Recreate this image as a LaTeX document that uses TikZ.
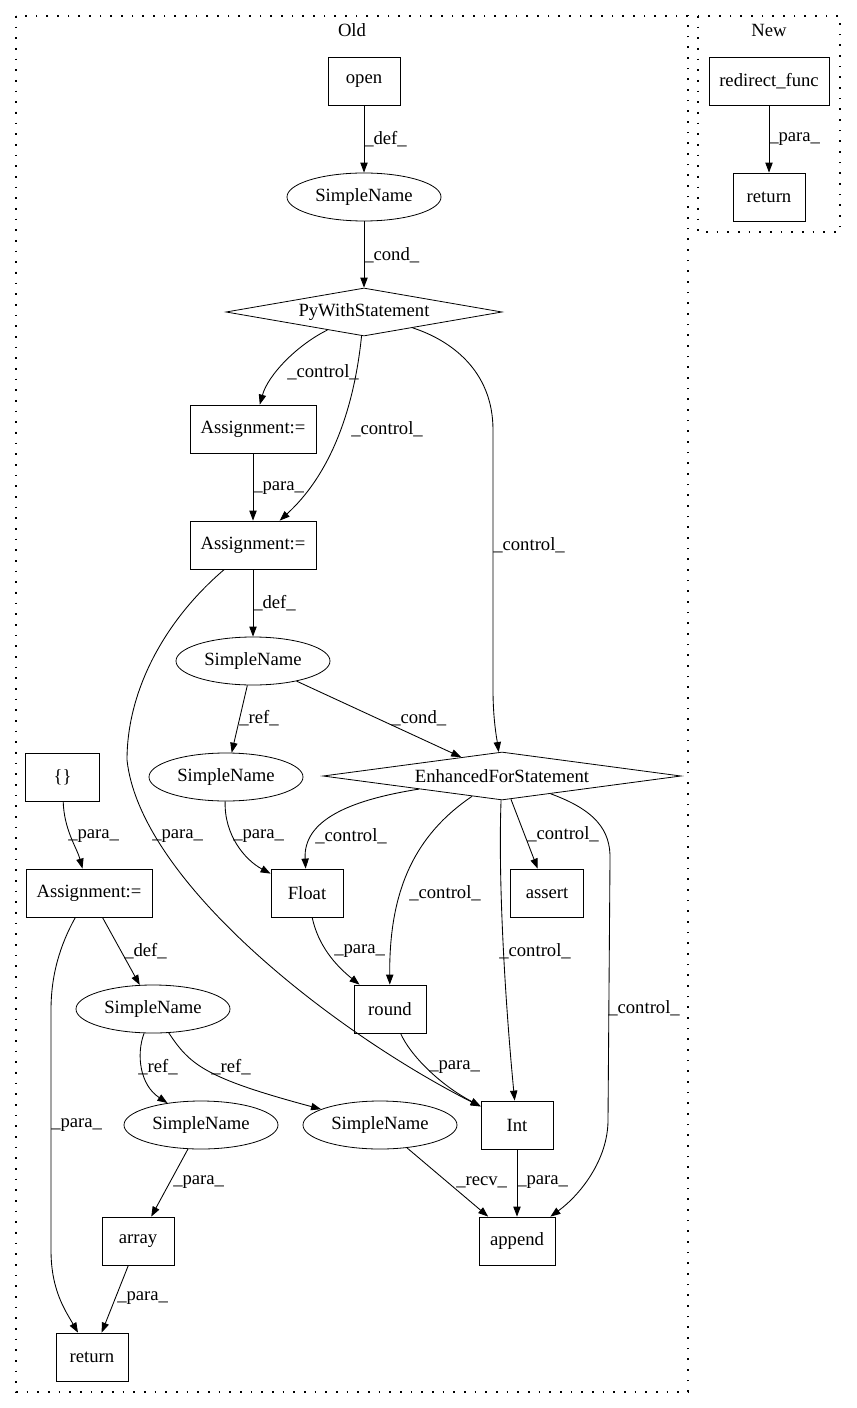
\documentclass[tikz,border=0pt]{standalone}
\usepackage{fontspec}
\setmainfont{Liberation Serif}
\usepackage{tikz}
\usetikzlibrary{shapes.geometric}
\usetikzlibrary{arrows.meta}
\tikzset{
  box/.style={draw, line width=0.6pt, minimum height=36pt, inner sep=0pt},
  oval/.style={draw, ellipse, line width=0.6pt, minimum width=115.5pt, minimum height=36pt, inner sep=0pt},
  decision/.style={draw, diamond, shape aspect=7, line width=0.6pt, minimum height=36pt, inner sep=0pt},
  flow/.style={-{Triangle[length=7.5pt,width=5.5pt]}, line width=0.65pt},
  elab/.style={anchor=west, inner sep=0pt},
  cluster/.style={line width=1pt, dash pattern=on 1.2pt off 6.8pt}
}
\newcommand{\edgelab}[4]{\node[elab] (#1) at ( #2 , #3 ) {#4};}

\begin{document}
\begin{tikzpicture}[x=0.75pt, y=-0.75pt, font=\fontsize{14pt}{16pt}\selectfont]
        \useasboundingbox (0,0) rectangle (856,1408);
        % clusters
        \draw[cluster] (16,16) rectangle (688,1392);
        \draw[cluster] (698,16) rectangle (840,232);
        \node (oldlbl) at (352,30) {Old};
        \node (newlbl) at (769,30) {New};

        % old
        \node[box, minimum width=54pt] (open) at (364,81) {open};
        \node[oval] (sn1) at (364,197) {SimpleName};
        \node[decision, minimum width=207pt] (pyw) at (364,312) {PyWithStatement};
        \node[box, minimum width=94.5pt] (asg1) at (253,429) {Assignment:=};
        \node[box, minimum width=94.5pt] (asg2) at (253,545) {Assignment:=};
        \node[oval] (sn2) at (253,661) {SimpleName};
        \node[box, minimum width=55pt] (brace) at (62.5,777) {\{\}};
        \node[oval] (sn3) at (226,777) {SimpleName};
        \node[decision, minimum width=268.5pt] (efs) at (502,776) {EnhancedForStatement};
        \node[box, minimum width=94.5pt] (asg3) at (89,893) {Assignment:=};
        \node[box, minimum width=54pt] (flt) at (307,893) {Float};
        \node[box, minimum width=55pt] (asrt) at (547,893) {assert};
        \node[oval] (sn4) at (153,1009) {SimpleName};
        \node[box, minimum width=54pt] (rnd) at (390,1009) {round};
        \node[oval] (sn5) at (201,1125) {SimpleName};
        \node[oval] (sn6) at (380,1125) {SimpleName};
        \node[box, minimum width=54pt] (int) at (517,1125) {Int};
        \node[box, minimum width=54pt] (arr) at (138,1241) {array};
        \node[box, minimum width=57pt] (app) at (517,1241) {append};
        \node[box, minimum width=54pt] (ret) at (92,1357) {return};

        % new
        \node[box, minimum width=90pt] (redir) at (769,81) {redirect\_func};
        \node[box, minimum width=54pt] (nret) at (769,197) {return};

        % edges, top part
        \draw[flow] (open) -- (sn1);
        \draw[flow] (sn1) -- (pyw);
        \draw[flow] (pyw) .. controls (297,345) and (268,375) .. (asg1);
        \draw[flow] (pyw) .. controls (355,400) and (335,470) .. (asg2);
        \draw[flow] (pyw) .. controls (450,340) and (493,370) .. (493,430) -- (493,690)
                    .. controls (493,720) and (497,740) .. (efs);
        \draw[flow] (asg1) -- (asg2);
        \draw[flow] (asg2) -- (sn2);
        \draw[flow] (asg2) .. controls (165,620) and (127,690) .. (127,760)
                    .. controls (140,880) and (330,1030) .. (int);
        \draw[flow] (sn2) -- (sn3);
        \draw[flow] (sn2) -- (efs);

        % edges, middle part
        \draw[flow] (brace) .. controls (64,830) and (77,848) .. (asg3);
        \draw[flow] (sn3) .. controls (224,835) and (245,860) .. (flt);
        \draw[flow] (efs) .. controls (350,800) and (303,820) .. (flt);
        \draw[flow] (efs) .. controls (415,835) and (389,890) .. (rnd);
        \draw[flow] (efs) .. controls (498,880) and (505,1000) .. (int);
        \draw[flow] (efs) -- (asrt);
        \draw[flow] (efs) .. controls (595,810) and (611,830) .. (610,860) -- (608,1120)
                    .. controls (608,1160) and (580,1195) .. (app);
        \draw[flow] (asg3) -- (sn4);
        \draw[flow] (asg3) .. controls (60,945) and (51,975) .. (51,1010) -- (51,1250)
                    .. controls (51,1290) and (65,1310) .. (ret);
        \draw[flow] (flt) .. controls (318,945) and (335,965) .. (rnd);

        % edges, bottom part
        \draw[flow] (rnd) .. controls (410,1055) and (440,1085) .. (int);
        \draw[flow] (sn4) .. controls (136,1055) and (140,1085) .. (sn5);
        \draw[flow] (sn4) .. controls (190,1065) and (205,1078) .. (sn6);
        \draw[flow] (sn5) -- (arr);
        \draw[flow] (sn6) -- (app);
        \draw[flow] (int) -- (app);
        \draw[flow] (arr) -- (ret);
        \draw[flow] (redir) -- (nret);

        % labels
        \edgelab{l1}{364}{139}{\_def\_}
        \edgelab{l2}{364}{255}{\_cond\_}
        \edgelab{l3}{287}{372}{\_control\_}
        \edgelab{l4}{351}{429}{\_control\_}
        \edgelab{l5}{493}{545}{\_control\_}
        \edgelab{l6}{253}{488}{\_para\_}
        \edgelab{l7}{253}{603}{\_def\_}
        \edgelab{l8}{152}{836}{\_para\_}
        \edgelab{l9}{239}{718}{\_ref\_}
        \edgelab{l10}{391}{718}{\_cond\_}
        \edgelab{l11}{68}{836}{\_para\_}
        \edgelab{l12}{233}{836}{\_para\_}
        \edgelab{l13}{315}{836}{\_control\_}
        \edgelab{l14}{409}{893}{\_control\_}
        \edgelab{l15}{499}{951}{\_control\_}
        \edgelab{l16}{527}{834}{\_control\_}
        \edgelab{l17}{608}{1008}{\_control\_}
        \edgelab{l18}{124}{951}{\_def\_}
        \edgelab{l19}{51}{1125}{\_para\_}
        \edgelab{l20}{334}{951}{\_para\_}
        \edgelab{l21}{429}{1067}{\_para\_}
        \edgelab{l22}{138}{1067}{\_ref\_}
        \edgelab{l23}{211}{1067}{\_ref\_}
        \edgelab{l24}{173}{1182}{\_para\_}
        \edgelab{l25}{456}{1182}{\_recv\_}
        \edgelab{l26}{517}{1182}{\_para\_}
        \edgelab{l27}{117}{1298}{\_para\_}
        \edgelab{l28}{769}{139}{\_para\_}
\end{tikzpicture}
\end{document}
